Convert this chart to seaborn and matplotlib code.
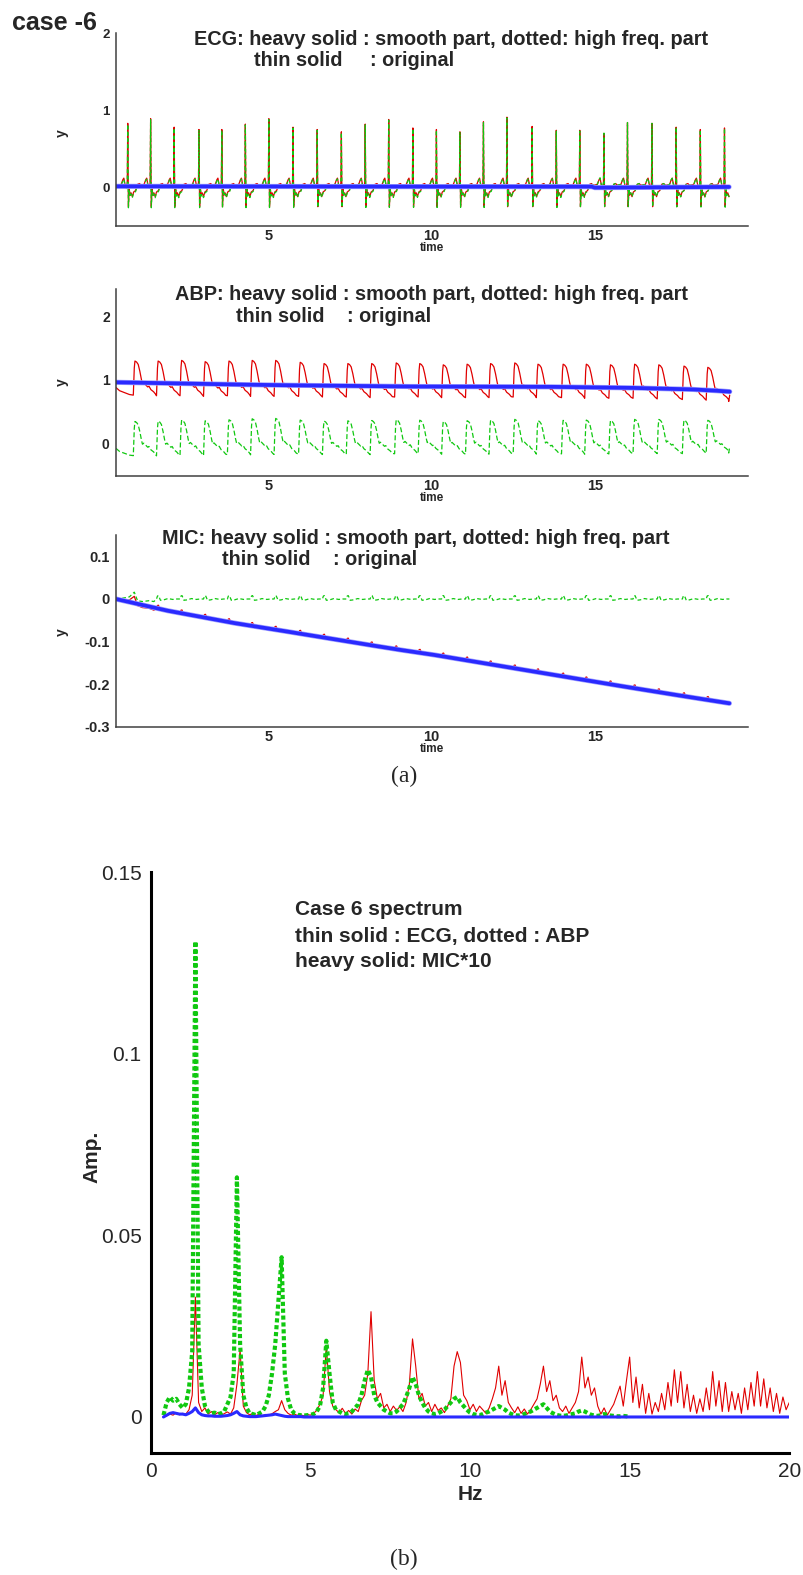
import numpy as np
import matplotlib
matplotlib.use("Agg")
import matplotlib.pyplot as plt
import seaborn as sns
from matplotlib.ticker import MultipleLocator, FixedLocator

sns.set_style("white")
plt.rcParams['font.family'] = ['Liberation Sans', 'DejaVu Sans']

W, H = 804, 1575

# ---------------- ECG panel data ----------------
ecg_beat_t = [0.70, 1.40, 2.12, 2.88, 3.58, 4.30, 5.02, 5.76, 6.50, 7.24, 7.97, 8.69,
              9.43, 10.15, 10.87, 11.59, 12.31, 13.08, 13.82, 14.54, 15.28, 16.00,
              16.75, 17.49, 18.23, 18.97]
ecg_r_height = [0.83, 0.89, 0.78, 0.75, 0.75, 0.82, 0.89, 0.78, 0.75, 0.72, 0.82, 0.88,
                0.77, 0.75, 0.72, 0.85, 0.91, 0.79, 0.74, 0.74, 0.70, 0.84, 0.83, 0.78,
                0.75, 0.77]
ecg_shape_off = [-0.28, -0.20, -0.15, -0.12, -0.08, -0.04, -0.015, 0.0, 0.02, 0.045,
                 0.07, 0.10, 0.14, 0.18, 0.24, 0.30, 0.36, 0.40]
ecg_shape_val = [0.03, 0.04, 0.10, 0.12, 0.03, 0.00, 0.06, None, -0.25, -0.02,
                 -0.10, -0.07, -0.12, -0.06, -0.04, 0.04, 0.05, 0.03]
ecg_lead_t, ecg_lead_v = [0.34], [0.03]
ecg_end_t = 19.12
ecg_smooth_t = [0.34, 8.0, 14.9, 15.0, 18.0, 19.12]
ecg_smooth_v = [0.014, 0.010, 0.010, -0.003, 0.003, 0.006]

# ---------------- ABP panel data ----------------
abp_up_t = [0.87, 1.58, 2.30, 3.02, 3.75, 4.46, 5.18, 5.93, 6.66, 7.39, 8.12, 8.87,
            9.59, 10.31, 11.04, 11.76, 12.50, 13.21, 13.98, 14.69, 15.43, 16.17,
            16.91, 17.68, 18.41]
abp_peak = [1.30, 1.30, 1.31, 1.29, 1.30, 1.31, 1.31, 1.28, 1.26, 1.26, 1.26, 1.27,
            1.26, 1.24, 1.25, 1.26, 1.27, 1.25, 1.25, 1.25, 1.24, 1.25, 1.24, 1.22, 1.20]
abp_trough = [0.76, 0.75, 0.75, 0.74, 0.75, 0.74, 0.74, 0.74, 0.73, 0.73, 0.72, 0.73,
              0.73, 0.72, 0.72, 0.72, 0.73, 0.72, 0.72, 0.71, 0.71, 0.71, 0.70, 0.69, 0.68]
abp_shape_off = [0.00, 0.03, 0.05, 0.10, 0.15, 0.20, 0.25, 0.28, 0.32, 0.38, 0.44,
                 0.48, 0.54, 0.62, 0.68]
abp_shape_frac = [0.0, 0.80, 1.0, 0.97, 0.90, 0.70, 0.45, 0.33, 0.36, 0.30, 0.24,
                  0.26, 0.16, 0.10, 0.03]
abp_lead_t, abp_lead_v = [0.34, 0.45, 0.60, 0.75], [0.88, 0.83, 0.80, 0.77]
abp_tail_t, abp_tail_v = [19.10, 19.13], [0.66, 0.76]
abp_smooth_t = [0.34, 3.0, 5.0, 7.6, 9.0, 13.4, 15.9, 17.9, 18.6, 19.12]
abp_smooth_v = [0.963, 0.937, 0.92, 0.905, 0.897, 0.893, 0.878, 0.853, 0.835, 0.815]

# ---------------- MIC panel data ----------------
mic_smooth_t = [0.34, 1.89, 3.93, 5.0, 6.99, 8.93, 10.0, 12.5, 15.0, 17.0, 19.12]
mic_smooth_v = [0.0, -0.027, -0.056, -0.069, -0.094, -0.118, -0.130, -0.162, -0.194,
                -0.219, -0.2445]
mic_lead_t = [0.34, 0.55, 0.75, 0.90, 1.00, 1.15, 1.35, 1.50]
mic_lead_res = [0.0, 0.002, 0.005, 0.016, -0.004, -0.006, -0.004, -0.006]
mic_shape_off = [0.0, 0.03, 0.06, 0.09, 0.12, 0.22, 0.35, 0.50, 0.62]
mic_shape_res = [0.0, 0.007, 0.008, 0.003, -0.003, -0.002, 0.001, -0.001, 0.0]

# ---------------- spectrum data (values in 1e-3 amplitude units) ----------------
ecg_spec_milli = [
    0.0, 0.3, 0.8, 0.5, 1.2, 0.6,                                 # 0.4-0.9 Hz
    1.0, 0.8, 2.0, 6.0, 33.0, 4.0, 1.5, 2.5, 0.8, 1.5,            # 1.x
    0.6, 1.2, 0.5, 0.9, 1.4, 0.8, 2.5, 9.0, 18.5, 3.0,            # 2.x
    1.2, 0.6, 1.0, 0.4, 0.8, 0.3, 0.7, 0.5, 0.9, 1.5,             # 3.x
    2.0, 4.5, 2.0, 1.0, 0.5, 0.8, 0.4, 0.6, 0.3, 0.7,             # 4.x
    0.5, 1.0, 1.8, 3.5, 6.0, 19.5, 7.0, 3.0, 2.0, 1.2,            # 5.x
    2.4, 1.0, 1.8, 0.8, 2.2, 1.5, 4.5, 6.0, 12.0, 29.0,           # 6.x
    10.0, 5.0, 6.5, 2.5, 3.5, 1.5, 3.0, 1.8, 2.8, 1.5,            # 7.x
    4.0, 9.0, 21.5, 14.0, 5.0, 6.5, 3.0, 4.0, 1.5, 3.5,           # 8.x
    1.8, 2.5, 1.2, 3.0, 5.0, 14.0, 18.0, 15.0, 6.0, 4.5,          # 9.x
    2.0, 3.5, 1.5, 3.0, 2.0, 1.0, 2.5, 5.0, 8.0, 14.0,            # 10.x
    6.0, 10.0, 4.0, 2.5, 1.2, 2.8, 1.0, 2.2, 0.8, 2.0,            # 11.x
    3.5, 5.0, 9.0, 14.0, 7.0, 10.0, 4.5, 6.0, 2.5, 1.5,           # 12.x
    3.0, 1.0, 2.5, 4.0, 7.0, 16.5, 8.0, 11.0, 6.0, 8.0,           # 13.x
    3.0, 0.8, 2.5, 0.5, 2.0, 3.5, 6.0, 8.5, 3.0, 10.0,            # 14.x
    16.5, 4.0, 11.0, 2.5, 9.0, 1.0, 6.5, 0.8, 4.0, 1.5,           # 15.x
    6.5, 2.0, 9.5, 3.0, 13.0, 4.0, 12.5, 2.5, 9.0, 1.5,           # 16.x
    6.0, 1.0, 5.0, 1.5, 8.0, 2.0, 12.5, 3.0, 10.0, 1.5,           # 17.x
    9.5, 1.5, 7.0, 2.0, 6.5, 1.0, 8.0, 2.0, 9.5, 3.0,             # 18.x
    12.5, 3.0, 10.5, 2.5, 8.0, 1.5, 6.5, 1.0, 5.5, 2.0,           # 19.x
    4.0]                                                          # 20.0
abp_spec_milli = [
    0.5, 4.0, 5.5, 4.5, 5.0, 3.5,                                 # 0.4-0.9 Hz
    2.5, 3.5, 8.0, 18.0, 131.0, 20.0, 8.0, 3.0, 1.5, 1.0,         # 1.x
    1.2, 0.8, 1.0, 1.5, 3.5, 5.5, 12.0, 66.0, 20.0, 6.0,          # 2.x
    2.5, 1.0, 0.8, 0.5, 1.0, 1.5, 3.0, 6.0, 12.0, 20.0,           # 3.x
    32.0, 44.0, 12.0, 5.0, 2.0, 1.0, 0.6, 0.5, 0.4, 0.5,          # 4.x
    0.6, 0.8, 1.5, 3.0, 8.0, 21.0, 12.0, 4.0, 2.0, 1.5,           # 5.x
    1.0, 0.8, 1.0, 1.5, 2.5, 3.5, 6.0, 10.0, 13.0, 11.0,          # 6.x
    6.0, 4.0, 3.0, 2.0, 1.5, 1.0, 1.0, 1.5, 2.5, 3.5,             # 7.x
    5.5, 8.0, 11.0, 9.0, 6.0, 4.0, 2.5, 1.5, 1.0, 0.8,            # 8.x
    1.0, 1.5, 2.0, 3.0, 4.0, 5.0, 5.5, 4.0, 3.0, 2.0,             # 9.x
    1.2, 0.8, 0.6, 0.5, 0.8, 1.2, 1.5, 2.0, 2.5, 3.0,             # 10.x
    2.5, 2.0, 1.2, 0.8, 0.5, 0.4, 0.5, 0.8, 1.2, 1.5,             # 11.x
    2.0, 2.5, 3.0, 3.5, 2.5, 1.5, 1.0, 0.6, 0.4, 0.3,             # 12.x
    0.4, 0.6, 0.8, 1.0, 1.5, 1.8, 1.5, 1.0, 0.6, 0.4,             # 13.x
    0.3, 0.5, 0.8, 0.6, 0.4, 0.3, 0.2, 0.2, 0.3, 0.2,             # 14.x
    0.1]                                                          # 15.0
mic_spec_milli = [
    0.0, 0.5, 1.0, 1.2, 1.0, 0.8,                                 # 0.4-0.9 Hz
    0.8, 0.6, 1.0, 1.5, 2.5, 1.2, 0.6, 0.4, 0.3, 0.3,             # 1.x
    0.2, 0.2, 0.2, 0.3, 0.4, 0.6, 1.0, 1.5, 0.6, 0.3,             # 2.x
    0.2, 0.1, 0.1, 0.1, 0.2, 0.3, 0.4, 0.5, 0.6, 0.8,             # 3.x
    0.6, 0.4, 0.2, 0.1, 0.1, 0.1, 0.1, 0.1, 0.0, 0.0,             # 4.x
    0.0]                                                          # 20.0 (flat tail)

spec_text = ["Case 6 spectrum", "thin solid : ECG, dotted : ABP", "heavy solid: MIC*10"]

# ---------------- build polylines from beat lists ----------------
def build_ecg():
    t, v = list(ecg_lead_t), list(ecg_lead_v)
    for bt, rh in zip(ecg_beat_t, ecg_r_height):
        for o, s in zip(ecg_shape_off, ecg_shape_val):
            tt = bt + o
            if tt > ecg_end_t or tt < ecg_lead_t[0]:
                continue
            t.append(tt)
            v.append(rh if s is None else s)
    return np.array(t), np.array(v)


def build_abp():
    t, v = list(abp_lead_t), list(abp_lead_v)
    for bt, pk, tr in zip(abp_up_t, abp_peak, abp_trough):
        for o, f in zip(abp_shape_off, abp_shape_frac):
            t.append(bt + o)
            v.append(tr + f * (pk - tr))
    t += abp_tail_t
    v += abp_tail_v
    return np.array(t), np.array(v)


def build_mic_res():
    t, v = list(mic_lead_t), list(mic_lead_res)
    for bt in abp_up_t[1:]:
        for o, r in zip(mic_shape_off, mic_shape_res):
            tt = bt + o
            if tt > 19.12:
                continue
            t.append(tt)
            v.append(r)
    t.append(19.12)
    v.append(0.0)
    return np.array(t), np.array(v)


ecg_t, ecg_raw = build_ecg()
ecg_sm = np.interp(ecg_t, ecg_smooth_t, ecg_smooth_v)
ecg_hf = ecg_raw - ecg_sm

abp_t, abp_raw = build_abp()
abp_sm = np.interp(abp_t, abp_smooth_t, abp_smooth_v)
abp_hf = abp_raw - abp_sm

mic_t, mic_hf = build_mic_res()
mic_sm = np.interp(mic_t, mic_smooth_t, mic_smooth_v)
mic_raw = mic_sm + mic_hf

RED = '#e00000'
GREEN = '#10c810'
BLUE = '#2a2aff'

fig = plt.figure(figsize=(W / 100, H / 100), dpi=100)


def add_axes_px(left, right, top, bottom):
    return fig.add_axes([left / W, 1 - bottom / H, (right - left) / W, (bottom - top) / H])


def ftxt(x, y, s, **kw):
    fig.text(x / W, 1 - y / H, s, **kw)


def line(ax, x, y, **kw):
    sns.lineplot(x=x, y=y, ax=ax, estimator=None, sort=False, legend=False, **kw)


def style_time_axes(ax, ylim, ymajor, yminor, ylabels, ysize):
    ax.set_xlim(0.34, 19.69)
    ax.set_ylim(*ylim)
    for sp in ['top', 'right']:
        ax.spines[sp].set_visible(False)
    for sp in ['left', 'bottom']:
        ax.spines[sp].set_color('#404040')
        ax.spines[sp].set_linewidth(1.1)
    ax.xaxis.set_major_locator(FixedLocator([5, 10, 15]))
    ax.xaxis.set_minor_locator(MultipleLocator(1))
    ax.yaxis.set_major_locator(FixedLocator(ymajor))
    ax.yaxis.set_minor_locator(MultipleLocator(yminor))
    ax.set_xticklabels(['5', '10', '15'])
    ax.set_yticklabels(ylabels)
    ax.tick_params(axis='both', which='major', direction='in', color='black',
                   width=1.8, pad=2.0)
    ax.tick_params(axis='x', which='major', length=5.5, labelsize=10.5)
    ax.tick_params(axis='y', which='major', length=7.7, labelsize=ysize, pad=4.5)
    ax.tick_params(axis='both', which='minor', direction='in', color='#505050',
                   width=0.9, length=3.4)
    for lab in ax.get_xticklabels() + ax.get_yticklabels():
        lab.set_fontweight('bold')
    ax.set_xlabel('')
    ax.set_ylabel('')
    ax.set_facecolor('white')


def draw_time(ax, t, raw, hf, sm, dash):
    line(ax, t, raw, color=RED, linewidth=0.9)
    line(ax, t, hf, color=GREEN, linewidth=0.9, dashes=dash)
    line(ax, t, sm, color='#a0a0ff', linewidth=3.7)
    line(ax, t, sm, color=BLUE, linewidth=2.7)


# ---- panel 1: ECG ----
ax1 = add_axes_px(116, 748, 33, 226)
draw_time(ax1, ecg_t, ecg_raw, ecg_hf, ecg_sm, (3, 2))
style_time_axes(ax1, (-0.5, 2.0), [0, 1, 2], 0.2, ['0', '1', '2'], 9.5)

# ---- panel 2: ABP ----
ax2 = add_axes_px(116, 748, 289, 476)
draw_time(ax2, abp_t, abp_raw, abp_hf, abp_sm, (4, 2))
style_time_axes(ax2, (-0.52, 2.44), [0, 1, 2], 0.2, ['0', '1', '2'], 10)

# ---- panel 3: MIC ----
ax3 = add_axes_px(116, 748, 535, 727)
draw_time(ax3, mic_t, mic_raw, mic_hf, mic_sm, (3, 2))
style_time_axes(ax3, (-0.3, 0.15), [-0.3, -0.2, -0.1, 0.0, 0.1], 0.02,
                ['-0.3', '-0.2', '-0.1', '0', '0.1'], 10.5)

# titles / labels of the time panels
TS = 14.3
titles = [("ECG", 194, 45, 254, 370, 66, 133, 248),
          ("ABP", 175, 300, 236, 347, 321.7, 381.7, 498),
          ("MIC", 162, 544.3, 222, 333, 565, 631.7, 749)]
for name, x1, y1, x2, xc, y2, ylab_y, time_y in titles:
    ftxt(x1, y1, name + ": heavy solid : smooth part, dotted: high freq. part",
         fontsize=TS, fontweight='bold', va='baseline', ha='left')
    ftxt(x2, y2, "thin solid", fontsize=TS, fontweight='bold', va='baseline', ha='left')
    ftxt(xc, y2, ": original", fontsize=TS, fontweight='bold', va='baseline', ha='left')
    ftxt(62, ylab_y, "y", fontsize=10, fontweight='bold', rotation=90,
         va='center', ha='center')
    ftxt(432, time_y, "time", fontsize=8.5, fontweight='bold', va='center', ha='center')

ftxt(12, 30, "case -6", fontsize=18, fontweight='bold', va='baseline', ha='left')
ftxt(404, 776, "(a)", fontsize=17, family='Liberation Serif', va='center', ha='center')

# ---- panel 4: spectrum ----
ax4 = add_axes_px(150.7, 789.3, 872.3, 1453.3)
hz_ecg = np.linspace(0.4, 20.0, len(ecg_spec_milli))
hz_abp = np.linspace(0.4, 15.0, len(abp_spec_milli))
hz_mic = np.append(np.linspace(0.4, 4.9, len(mic_spec_milli) - 1), 20.0)
line(ax4, hz_ecg, np.array(ecg_spec_milli) / 1000, color=RED, linewidth=0.8)
line(ax4, hz_abp, np.array(abp_spec_milli) / 1000, color=GREEN, linewidth=3.0,
     dashes=(1, 0.65), dash_capstyle='butt')
line(ax4, hz_mic, np.array(mic_spec_milli) / 1000, color=BLUE, linewidth=2.2)
ax4.set_xlim(0, 20)
ax4.set_ylim(-0.01, 0.15)
for sp in ['top', 'right']:
    ax4.spines[sp].set_visible(False)
for sp in ['left', 'bottom']:
    ax4.spines[sp].set_color('black')
    ax4.spines[sp].set_linewidth(2.2)
ax4.xaxis.set_major_locator(FixedLocator([0, 5, 10, 15, 20]))
ax4.xaxis.set_minor_locator(MultipleLocator(1))
ax4.yaxis.set_major_locator(FixedLocator([0, 0.05, 0.1, 0.15]))
ax4.yaxis.set_minor_locator(MultipleLocator(0.01))
ax4.set_xticklabels(['0', '5', '10', '15', '20'])
ax4.set_yticklabels(['0', '0.05', '0.1', '0.15'])
ax4.tick_params(axis='both', which='major', direction='in', length=10.5, width=2.2,
                labelsize=15, pad=6.5, color='black')
ax4.tick_params(axis='both', which='minor', direction='in', length=5.7, width=1.1,
                color='#404040')
ax4.set_xlabel('')
ax4.set_ylabel('')
ftxt(92, 1157, "Amp.", fontsize=15, fontweight='bold', rotation=90, va='center', ha='center')
ftxt(470, 1495, "Hz", fontsize=15, fontweight='bold', va='center', ha='center')
for i, s in enumerate(spec_text):
    ftxt(295, [915, 941.7, 966.7][i], s, fontsize=15, fontweight='bold',
         va='baseline', ha='left')
ftxt(404, 1559, "(b)", fontsize=17, family='Liberation Serif', va='center', ha='center')

fig.savefig("out.png", dpi=100, facecolor='white')
